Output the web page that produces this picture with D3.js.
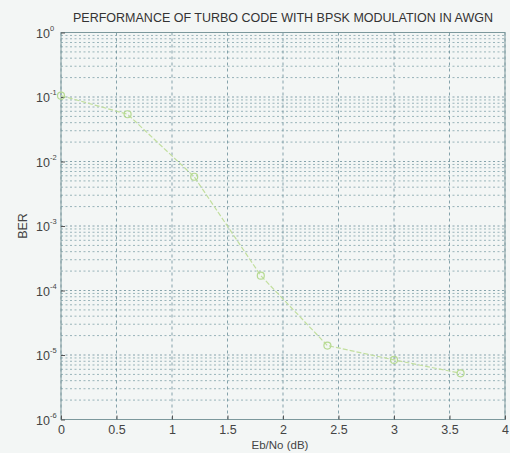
<!DOCTYPE html>
<html>
<head>
<meta charset="utf-8">
<script src="https://cdn.jsdelivr.net/npm/d3@7.9.0/dist/d3.min.js"></script>
<style>
  html, body { margin: 0; padding: 0; background: #f3f6f5; }
  svg { display: block; font-family: "Liberation Sans", Arial, sans-serif; }
</style>
</head>
<body>
<svg id="chart"></svg>
<script>
// values
const ebno = [0, 0.6, 1.2, 1.8, 2.4, 3.0, 3.6];
const ber = [0.105, 0.054, 0.0058, 1.7e-4, 1.4e-5, 8.4e-6, 5.2e-6];
const xTicks = [0, 0.5, 1, 1.5, 2, 2.5, 3, 3.5, 4];
const yExponents = [0, -1, -2, -3, -4, -5, -6];
const titleText = 'PERFORMANCE OF TURBO CODE WITH BPSK MODULATION IN AWGN';

const width = 510;
const height = 453;
const margin = { top: 32.5, right: 5, bottom: 33.5, left: 61 };

const svg = d3.select('#chart')
    .attr('width', width)
    .attr('height', height);

svg.append('rect')
  .attr('width', width)
  .attr('height', height)
  .attr('fill', '#f3f6f5');

const x = d3.scaleLinear()
  .domain([0, 4])
  .range([margin.left, width - margin.right]);

const y = d3.scaleLog()
  .domain([1e-6, 1])
  .range([height - margin.bottom, margin.top]);

const g = svg.append('g');

// minor horizontal grid (2..9 in each decade)
const minor = [];
yExponents.slice(0, -1).forEach(e => {
  for (let k = 2; k <= 9; k++) minor.push(k * Math.pow(10, e - 1));
});

g.append('g')
  .selectAll('line')
  .data(minor)
  .join('line')
  .attr('x1', x(0)).attr('x2', x(4))
  .attr('y1', d => y(d)).attr('y2', d => y(d))
  .attr('stroke', '#7b9ea6')
  .attr('stroke-opacity', 0.75)
  .attr('stroke-width', 1)
  .attr('stroke-dasharray', '2,2.5');

// major horizontal grid
g.append('g')
  .selectAll('line')
  .data(yExponents.map(e => Math.pow(10, e)))
  .join('line')
  .attr('x1', x(0)).attr('x2', x(4))
  .attr('y1', d => y(d)).attr('y2', d => y(d))
  .attr('stroke', '#6a8f98')
  .attr('stroke-opacity', 0.8)
  .attr('stroke-dasharray', '2,2.5');

// vertical grid
g.append('g')
  .selectAll('line')
  .data(xTicks)
  .join('line')
  .attr('x1', d => x(d)).attr('x2', d => x(d))
  .attr('y1', y(1e-6)).attr('y2', y(1))
  .attr('stroke', '#6a8f98')
  .attr('stroke-opacity', 0.8)
  .attr('stroke-dasharray', '3,3');

// frame
g.append('rect')
  .attr('x', x(0))
  .attr('y', y(1))
  .attr('width', x(4) - x(0))
  .attr('height', y(1e-6) - y(1))
  .attr('fill', 'none')
  .attr('stroke', '#7c989c')
  .attr('stroke-width', 1);

// axes
const xAxis = svg.append('g')
  .attr('transform', `translate(0,${y(1e-6)})`)
  .call(d3.axisBottom(x).tickValues(xTicks).tickSize(-4).tickPadding(6)
    .tickFormat(d => d3.format('')(d)));
xAxis.select('.domain').remove();
xAxis.selectAll('line').attr('stroke', '#555');
xAxis.selectAll('text')
  .attr('font-size', 12.5)
  .attr('fill', '#444')
  .attr('font-family', '"Liberation Sans", Arial, sans-serif');

const yAxis = svg.append('g')
  .attr('transform', `translate(${x(0)},0)`)
  .call(d3.axisLeft(y).tickValues(yExponents.map(e => Math.pow(10, e))).tickSize(-4)
    .tickFormat(() => ''));
yAxis.select('.domain').remove();
yAxis.selectAll('line').attr('stroke', '#555');
yAxis.selectAll('.tick text').remove();
yAxis.selectAll('.tick')
  .each(function(d) {
    const t = d3.select(this).append('text')
      .attr('x', -25)
      .attr('y', 4.5)
      .attr('text-anchor', 'start')
      .attr('fill', '#444')
      .attr('font-size', 12.5);
    t.append('tspan').text('10');
    t.append('tspan')
      .attr('dy', -7)
      .attr('font-size', 7.5)
      .text(Math.round(Math.log10(d)));
  });

// data line
const line = d3.line()
  .x((d, i) => x(ebno[i]))
  .y(d => y(d));

svg.append('path')
  .datum(ber)
  .attr('d', line)
  .attr('fill', 'none')
  .attr('stroke', '#c2df9e')
  .attr('stroke-width', 1.2)
  .attr('stroke-dasharray', '5,2');

svg.append('g')
  .selectAll('circle')
  .data(ber)
  .join('circle')
  .attr('cx', (d, i) => x(ebno[i]))
  .attr('cy', d => y(d))
  .attr('r', 3.5)
  .attr('fill', 'none')
  .attr('stroke', '#b6da92')
  .attr('stroke-width', 1.2);

// texts
svg.append('text')
  .attr('x', (x(0) + x(4)) / 2)
  .attr('y', 21.5)
  .attr('text-anchor', 'middle')
  .attr('font-size', 12.5)
  .attr('fill', '#333')
  .text(titleText);

svg.append('text')
  .attr('x', 280)
  .attr('y', 449)
  .attr('text-anchor', 'middle')
  .attr('font-size', 11.5)
  .attr('fill', '#444')
  .text('Eb/No (dB)');

svg.append('text')
  .attr('transform', `translate(27,226) rotate(-90)`)
  .attr('text-anchor', 'middle')
  .attr('font-size', 12.5)
  .attr('fill', '#444')
  .text('BER');
</script>
</body>
</html>
